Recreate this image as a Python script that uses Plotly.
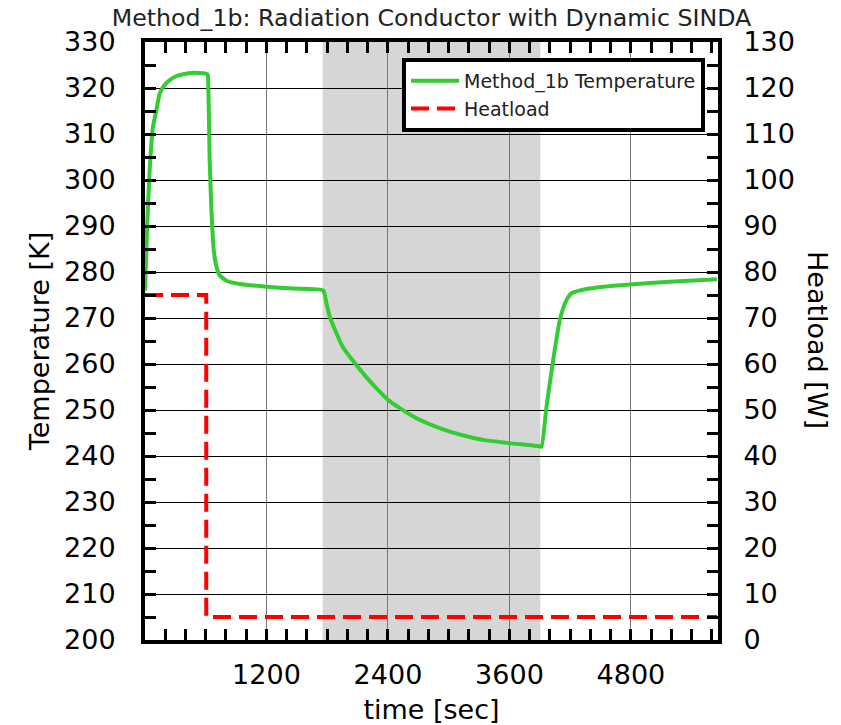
import plotly.graph_objects as go

# ---- data ----
time_s = [0, 20, 46, 79, 113, 145, 195, 244, 310, 376, 474, 573, 616, 622, 639, 656, 679, 705,
          738, 804, 936, 1200, 1462, 1760, 1792, 1825, 1891, 1957, 2072, 2188, 2287, 2401, 2517,
          2682, 2846, 3011, 3176, 3340, 3597, 3900, 3917, 3966, 4032, 4098, 4130, 4164, 4213,
          4279, 4362, 4526, 4789, 5185, 5650]
temp_k = [276.0, 289.1, 302.2, 311.6, 315.2, 318.8, 320.7, 321.7, 322.6, 323.0, 323.3, 323.2,
          323.0, 322.5, 304.3, 293.5, 284.8, 281.2, 279.3, 278.1, 277.4, 276.8, 276.4, 276.0,
          273.2, 270.3, 266.7, 263.6, 260.2, 257.1, 254.7, 252.2, 250.4, 248.2, 246.6, 245.3,
          244.3, 243.5, 242.8, 242.1, 242.0, 250.7, 260.9, 269.6, 272.1, 273.9, 275.4, 275.9,
          276.3, 276.8, 277.3, 277.9, 278.4]

heat_time = [0, 605, 605, 5650]
heat_w = [75, 75, 5, 5]

eclipse_start = 1755
eclipse_end = 3905

x_ticks = [1200, 2400, 3600, 4800]
x_range = [0, 5660]
temp_range = [200, 330]
heat_range = [0, 130]

FONT = "DejaVu Sans"

fig = go.Figure()
fig.add_trace(go.Scatter(x=time_s, y=temp_k, mode="lines", name="Method_1b Temperature",
                         line=dict(color="#33cc33", width=4, shape="spline", smoothing=0.5)))
fig.add_trace(go.Scatter(x=heat_time, y=heat_w, mode="lines", name="Heatload", yaxis="y2",
                         line=dict(color="#ff0000", width=4, dash="18px,8px")))

fig.add_shape(type="rect", xref="x", yref="paper", x0=eclipse_start, x1=eclipse_end, y0=0, y1=1,
              fillcolor="#d6d6d6", line=dict(width=0), layer="below")

tickfont = dict(family=FONT, size=27, color="black")

fig.update_layout(
    width=841, height=725,
    margin=dict(l=145, r=123, t=42, b=85),
    paper_bgcolor="white", plot_bgcolor="white",
    font=dict(family=FONT, color="black"),
    title=dict(text="Method_1b: Radiation Conductor with Dynamic SINDA",
               font=dict(family=FONT, size=23.7, color="#222"),
               x=(145 + 718) / 2 / 841, xanchor="center",
               y=1 - 18 / 725, yanchor="middle", yref="container"),
    xaxis=dict(range=x_range, tickmode="array", tickvals=x_ticks, automargin=False,
               ticks="inside", ticklen=11, tickwidth=3, tickcolor="black",
               showline=True, linewidth=4, linecolor="black", mirror="ticks",
               showgrid=True, gridcolor="#777", gridwidth=1, zeroline=False,
               tickfont=tickfont, ticklabelstandoff=8,
               minor=dict(tickmode="linear", tick0=0, dtick=200, ticks="inside", ticklen=11,
                          tickwidth=3, tickcolor="black", showgrid=False),
               title=dict(text="time [sec]", font=dict(family=FONT, size=27), standoff=14)),
    yaxis=dict(range=temp_range, dtick=10, tick0=200, automargin=False,
               ticks="inside", ticklen=11, tickwidth=3, tickcolor="black",
               showline=True, linewidth=4, linecolor="black",
               showgrid=True, gridcolor="black", gridwidth=1, zeroline=False,
               tickfont=tickfont, ticklabelstandoff=20,
               minor=dict(dtick=5, ticks="inside", ticklen=11, tickwidth=3, tickcolor="black",
                          showgrid=False),
               title=dict(text="Temperature [K]", font=dict(family=FONT, size=27), standoff=8)),
    yaxis2=dict(range=heat_range, dtick=10, tick0=0, overlaying="y", side="right",
                automargin=False,
                ticks="inside", ticklen=11, tickwidth=3, tickcolor="black",
                showline=True, linewidth=4, linecolor="black",
                showgrid=False, zeroline=False,
                tickfont=tickfont, ticklabelstandoff=16,
                minor=dict(dtick=5, ticks="inside", ticklen=11, tickwidth=3, tickcolor="black",
                           showgrid=False)),
    legend=dict(x=(402 - 145) / 573, y=(640 - 58) / 598, xanchor="left", yanchor="top",
                bgcolor="white", bordercolor="black", borderwidth=4, itemwidth=48,
                font=dict(family=FONT, size=19, color="#222")),
    showlegend=True,
)

fig.add_annotation(text="Heatload [W]", textangle=90, xref="paper", yref="paper",
                   x=(818 - 145) / 573, y=(640 - 340) / 598, xanchor="center", yanchor="middle",
                   showarrow=False, font=dict(family=FONT, size=27, color="black"))

fig.write_html("out.html")
